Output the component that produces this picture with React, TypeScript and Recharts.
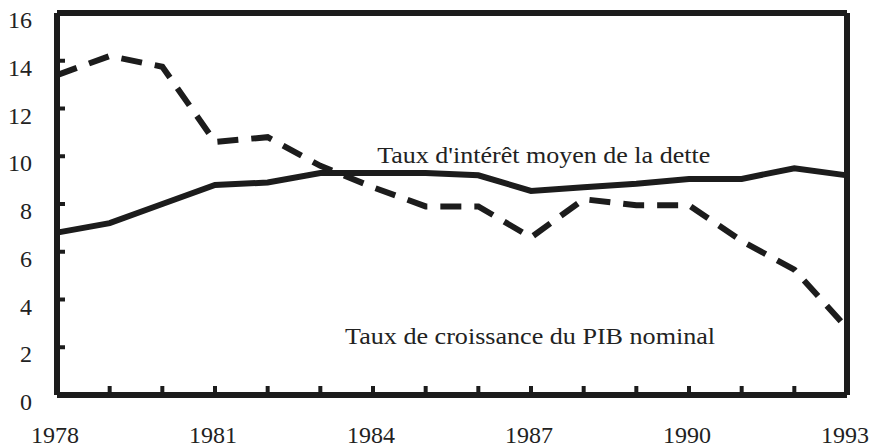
import React from 'react';
import { LineChart, Line, XAxis, YAxis, ReferenceLine, ReferenceDot } from 'recharts';

const years = [1978, 1979, 1980, 1981, 1982, 1983, 1984, 1985, 1986, 1987, 1988, 1989, 1990, 1991, 1992, 1993];
const interestRate = [6.8, 7.2, 8.0, 8.8, 8.9, 9.3, 9.3, 9.3, 9.2, 8.55, 8.7, 8.85, 9.05, 9.05, 9.5, 9.2];
const gdpGrowth = [13.4, 14.2, 13.75, 10.6, 10.8, 9.6, 8.7, 7.9, 7.9, 6.6, 8.2, 7.95, 7.95, 6.45, 5.25, 2.8];
const yTicks = [0, 2, 4, 6, 8, 10, 12, 14, 16];
const labelledYears = [1978, 1981, 1984, 1987, 1990, 1993];

const data = years.map((year, i) => ({ year, interest: interestRate[i], gdp: gdpGrowth[i] }));

const INK = '#1c1c1c';
const textStyle: React.CSSProperties = { fontFamily: 'Liberation Serif, Times New Roman, serif' };

const YTick = (props: any) => {
  const { x, y, payload } = props;
  const axisX = x + 25;
  const v = payload.value;
  return (
    <g>
      {v > 0 && v < 16 && (
        <line x1={axisX} x2={axisX + 8} y1={y} y2={y} stroke={INK} strokeWidth={4} />
      )}
      <text x={x} y={y + 15} textAnchor="end" style={textStyle} fontSize={24} fill="#222">
        {v}
      </text>
    </g>
  );
};

const XTick = (props: any) => {
  const { x, y, payload } = props;
  const yr = payload.value;
  return (
    <g>
      {yr > 1978 && yr < 1993 && (
        <line x1={x} x2={x} y1={y} y2={y - 9} stroke={INK} strokeWidth={4} />
      )}
      {labelledYears.includes(yr) && (
        <text x={x - 2} y={y + 48} textAnchor="middle" style={textStyle} fontSize={24} fill="#222">
          {yr}
        </text>
      )}
    </g>
  );
};

const annotation = (text: string, len: number) => (props: any) => {
  const { viewBox } = props;
  return (
    <text
      x={viewBox.x}
      y={viewBox.y}
      style={textStyle}
      fontSize={24}
      fill="#222"
      textLength={len}
      lengthAdjust="spacingAndGlyphs"
    >
      {text}
    </text>
  );
};

const App: React.FC = () => {
  return (
    <div style={{ position: 'absolute', left: 0, top: 0, background: '#fff' }}>
      <LineChart width={878} height={447} data={data} margin={{ top: 13, right: 31, left: 0, bottom: 0 }}>
        <XAxis
          dataKey="year"
          type="number"
          domain={[1978, 1993]}
          ticks={years}
          interval={0}
          height={52}
          tickSize={0}
          tickMargin={0}
          tickLine={false}
          axisLine={{ stroke: INK, strokeWidth: 6 }}
          tick={<XTick />}
        />
        <YAxis
          type="number"
          domain={[0, 16]}
          ticks={yTicks}
          interval={0}
          width={57}
          tickSize={0}
          tickMargin={25}
          tickLine={false}
          axisLine={{ stroke: INK, strokeWidth: 6 }}
          tick={<YTick />}
        />
        <ReferenceLine y={16} stroke={INK} strokeWidth={6} />
        <ReferenceLine x={1993} stroke={INK} strokeWidth={6} />
        <Line
          type="linear"
          dataKey="interest"
          stroke={INK}
          strokeWidth={6}
          dot={false}
          isAnimationActive={false}
        />
        <Line
          type="linear"
          dataKey="gdp"
          stroke={INK}
          strokeWidth={6}
          strokeDasharray="21 13"
          dot={false}
          isAnimationActive={false}
        />
        <ReferenceDot x={1984.08} y={9.72} r={0} fill="none" stroke="none" label={{ content: annotation("Taux d'intérêt moyen de la dette", 333) }} />
        <ReferenceDot x={1983.47} y={2.14} r={0} fill="none" stroke="none" label={{ content: annotation('Taux de croissance du PIB nominal', 370) }} />
      </LineChart>
    </div>
  );
};

export default App;
